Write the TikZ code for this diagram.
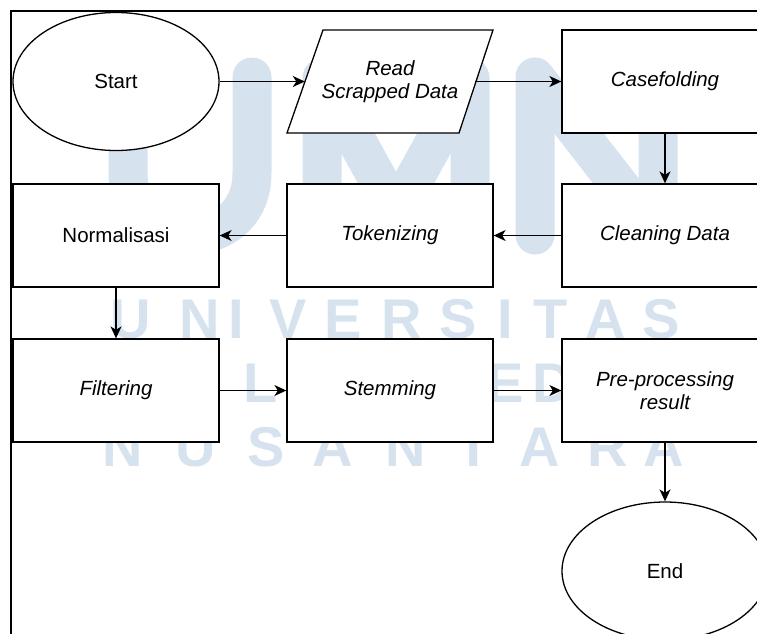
\documentclass[tikz,border=0pt]{standalone}
\usepackage{fontspec}
\setmainfont{Liberation Sans}
\usetikzlibrary{arrows.meta,shapes.geometric,calc}
\definecolor{wm}{RGB}{214,227,239}
\begin{document}
\begin{tikzpicture}[x=1pt,y=-1pt,
  txt/.style={font=\fontsize{20.5}{23}\selectfont},
  itxt/.style={font=\fontsize{20.5}{23}\selectfont\itshape},
  box/.style={draw=black,line width=1.3pt,fill=white,minimum width=206pt,minimum height=103pt,inner sep=0pt,align=center},
  term/.style={ellipse,draw=black,line width=1.3pt,fill=white,minimum width=206pt,minimum height=138pt,inner sep=0pt,align=center},
  iobox/.style={draw=black,line width=1.3pt,fill=white,line join=miter},
  flow/.style={-{Stealth[length=12pt,width=11pt,inset=3.5pt]},line width=1.3pt},
  wmstroke/.style={wm,line width=39pt,line cap=round,line join=round},
  wmletter/.style={text=wm,font=\fontsize{56}{56}\selectfont\bfseries,inner sep=0pt,anchor=base},
  frameline/.style={line width=1.8pt}
]
\clip (0,0) rectangle (757,633);
\fill[white] (0,0) rectangle (757,633);
% watermark
\draw[wmstroke] (128,40) -- (128,173) .. controls (128,256) and (252,256) .. (252,173) -- (252,77);
\draw[wmstroke] (322,240) -- (322,78) -- (396,212) -- (470,78) -- (470,240);
\draw[wmstroke] (535,235) -- (535,77) -- (658,235) -- (658,77);
\foreach \l/\x [count=\i] in {U/131,N/200,I/236,V/288,E/343,R/402,S/458,I/505,T/551,A/606,S/661}
  \node[wmletter] (wa\i) at (\x,338) {\l};
\foreach \l/\x [count=\i] in {L/261,E/505,D/553}
  \node[wmletter] (wb\i) at (\x,402) {\l};
\foreach \l/\x [count=\i] in {N/123,U/196,S/266,A/333,N/406,T/474,A/540,R/608,A/664}
  \node[wmletter] (wc\i) at (\x,466) {\l};
% frame
\draw[frameline] (11,640) -- (11,11) -- (770,11);
% row 1
\node[term,txt] (start) at (116,81.5) {Start};
\draw[iobox] (287,133) -- (459,133) -- (493,30) -- (323,30) -- cycle;
\node[minimum width=170pt,minimum height=103pt,inner sep=0pt,align=center,itxt] (read) at (390,81.5) {Read\\Scrapped Data};
\node[box,itxt] (case) at (665,81.5) {Casefolding};
% row 2
\node[box,txt] (norm) at (116,235.5) {Normalisasi};
\node[box,itxt] (token) at (390,235.5) {Tokenizing};
\node[box,itxt] (clean) at (665,235.5) {Cleaning Data};
% row 3
\node[box,itxt] (filt) at (116,390.5) {Filtering};
\node[box,itxt] (stem) at (390,390.5) {Stemming};
\node[box,itxt] (pre) at (665,390.5) {Pre-processing\\result};
% end
\node[term,txt] (end) at (665,571) {End};
% connectors
\draw[flow] (start.east) -- (read.west);
\draw[flow] (read.east) -- (case.west);
\draw[flow] (case.south) -- (clean.north);
\draw[flow] (clean.west) -- (token.east);
\draw[flow] (token.west) -- (norm.east);
\draw[flow] (norm.south) -- (filt.north);
\draw[flow] (filt.east) -- (stem.west);
\draw[flow] (stem.east) -- (pre.west);
\draw[flow] (pre.south) -- (end.north);
\end{tikzpicture}
\end{document}
